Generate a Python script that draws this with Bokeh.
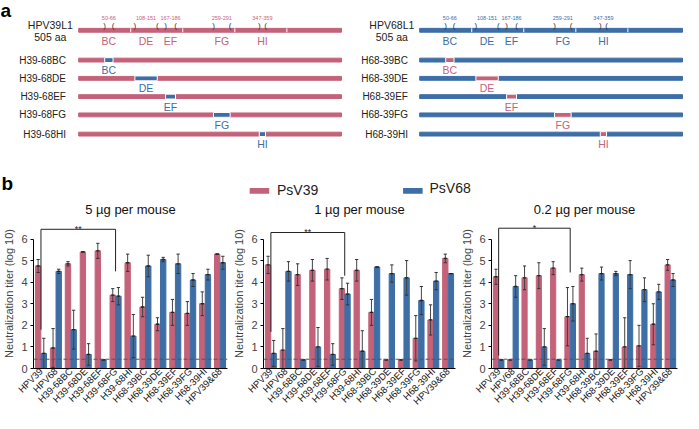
from bokeh.plotting import figure
from bokeh.models import Range1d, Span, ColumnDataSource, SingleIntervalTicker, FixedTicker
from bokeh.layouts import column, row
from bokeh.transform import dodge
from bokeh.core.properties import value
from bokeh.embed import file_html
from bokeh.resources import INLINE
import math

FONT = "Liberation Sans"
PINK = "#C4627A"
BLUE = "#3D6EA6"
DARK = "#222222"

# ---------------- data: panel a (L1 constructs) ----------------
L1_LENGTH = 505
regions = ["BC", "DE", "EF", "FG", "HI"]
region_start = [50, 108, 167, 259, 347]
region_end = [66, 151, 186, 291, 359]
region_range_labels = ["50-66", "108-151", "167-186", "259-291", "347-359"]
aa_ticks = [100, 200, 300, 400]
left_parent = ["HPV39L1", "505 aa"]
right_parent = ["HPV68L1", "505 aa"]
left_chimeras = ["H39-68BC", "H39-68DE", "H39-68EF", "H39-68FG", "H39-68HI"]
right_chimeras = ["H68-39BC", "H68-39DE", "H68-39EF", "H68-39FG", "H68-39HI"]

# ---------------- data: panel b (neutralization titers, log10) ----------------
cats = ["HPV39", "HPV68", "H39-68BC", "H39-68DE", "H39-68EF", "H39-68FG", "H39-68HI",
        "H68-39BC", "H68-39DE", "H68-39EF", "H68-39FG", "H68-39HI", "HPV39&68"]
dose_titles = ["5 \u00b5g per mouse", "1 \u00b5g per mouse", "0.2 \u00b5g per mouse"]
series_names = ["PsV39", "PsV68"]

psv39_5ug = [4.75, 0.95, 4.85, 5.4, 5.45, 3.4, 4.9, 2.85, 2.05, 2.6, 2.55, 3.0, 5.3]
psv39_5ug_sd = [0.3, 0.9, 0.1, 0.0, 0.35, 0.3, 0.4, 0.45, 0.3, 0.6, 0.55, 0.55, 0.0]
psv68_5ug = [0.7, 4.5, 1.8, 0.65, 0.4, 3.35, 1.5, 4.75, 5.05, 4.85, 4.1, 4.35, 4.9]
psv68_5ug_sd = [0.7, 0.1, 0.9, 0.5, 0.0, 0.4, 1.0, 0.5, 0.1, 0.45, 0.3, 0.25, 0.3]

psv39_1ug = [4.8, 0.85, 4.35, 4.55, 4.6, 3.7, 4.55, 2.6, 0.4, 0.4, 1.4, 2.25, 5.1]
psv39_1ug_sd = [0.4, 1.0, 0.5, 0.5, 0.5, 0.5, 0.5, 0.6, 0.0, 0.0, 1.05, 0.7, 0.2]
psv68_1ug = [0.7, 4.5, 0.4, 1.0, 0.65, 3.45, 0.8, 4.7, 4.4, 4.2, 3.15, 4.05, 4.4]
psv68_1ug_sd = [0.6, 0.45, 0.0, 0.9, 0.5, 0.5, 0.95, 0.0, 0.4, 0.8, 0.65, 0.4, 0.0]

psv39_02ug = [4.25, 0.4, 4.2, 4.3, 4.65, 2.4, 4.35, 0.8, 0.4, 1.0, 1.05, 2.05, 4.8]
psv39_02ug_sd = [0.35, 0.0, 0.55, 0.6, 0.3, 1.35, 0.3, 0.8, 0.0, 1.35, 0.95, 0.95, 0.25]
psv68_02ug = [0.4, 3.8, 0.4, 1.0, 0.4, 3.0, 0.7, 4.4, 4.4, 4.35, 3.65, 3.55, 4.1]
psv68_02ug_sd = [0.0, 0.5, 0.0, 0.85, 0.0, 0.8, 0.7, 0.3, 0.1, 0.65, 0.55, 0.35, 0.3]

detection_limit = 0.43
# significance bracket: (left leg bottom, top, right leg bottom, label)
sig_brackets = [(1.8, 6.45, 4.5, "**"), (1.7, 6.3, 4.3, "**"), (0.6, 6.5, 4.45, "*")]
sig_pair = ["HPV39", "H39-68FG"]

# ---------------- layout (reference pixel frame) ----------------
REF_W = 699
A_REF_H = 206
top_bar_y = 31
row_y = [62, 81, 100, 119, 139]
bar_x0_left, bar_x0_right, bar_len_px = 80, 429, 269
px_per_aa = bar_len_px / L1_LENGTH


def txt(p, x, y, t, size, color=DARK, align="center", baseline="middle", style="normal", rng=None):
    kw = {"x_range_name": rng} if rng else {}
    p.text(x=x, y=y, text=t, text_font=value(FONT), text_font_size=size,
           text_color=color, text_align=align, text_baseline=baseline,
           text_font_style=style, **kw)


pa = figure(width=683, height=198, x_range=Range1d(0, REF_W), y_range=Range1d(A_REF_H, 0),
            x_axis_location=None, y_axis_location=None, toolbar_location=None,
            output_backend="svg", min_border=0,
            extra_x_ranges={
                "left": Range1d(-bar_x0_left / px_per_aa, (REF_W - bar_x0_left) / px_per_aa),
                "right": Range1d(-bar_x0_right / px_per_aa, (REF_W - bar_x0_right) / px_per_aa)})
pa.grid.visible = False
pa.outline_line_color = None

blocks = [
    ("left", PINK, BLUE, left_parent, left_chimeras, 51, 67),
    ("right", BLUE, PINK, right_parent, right_chimeras, 400.5, 417),
]
mids = [(s + e) / 2 for s, e in zip(region_start, region_end)]
for rng, main, ins, parent, chims, head_x, lab_x in blocks:
    # parent L1
    pa.hbar(y=[top_bar_y], left=[0], right=[L1_LENGTH], height=4, color=main, x_range_name=rng)
    pa.segment(x0=aa_ticks, x1=aa_ticks, y0=[top_bar_y - 2] * len(aa_ticks),
               y1=[top_bar_y + 2] * len(aa_ticks), line_color="white", line_width=1,
               x_range_name=rng)
    txt(pa, region_start, [25.5] * 5, [")"] * 5, "8px", color="#333333", rng=rng)
    txt(pa, region_end, [25.5] * 5, ["("] * 5, "8px", color="#333333", rng=rng)
    txt(pa, mids, [18.5] * 5, region_range_labels, "5.5px", color=main, rng=rng)
    txt(pa, mids, [42] * 5, regions, "10.5px", color=main, rng=rng)
    txt(pa, [head_x, head_x], [25, 38], parent, "10.5px")
    # chimeras
    for i, name in enumerate(chims):
        pa.hbar(y=[row_y[i]], left=[0], right=[L1_LENGTH], height=4, color=main, x_range_name=rng)
        pa.hbar(y=[row_y[i]], left=[region_start[i]], right=[region_end[i]], height=5,
                fill_color=ins, line_color="white", line_width=1, x_range_name=rng)
        txt(pa, [lab_x], [row_y[i]], [name], "10px", align="right")
        txt(pa, [mids[i]], [row_y[i] + 10.5], [regions[i]], "10.5px", color=ins, rng=rng)

# panel labels and legend
txt(pa, [0], [10], ["a"], "19px", color="black", align="left", style="bold")
txt(pa, [1], [190], ["b"], "19px", color="black", align="left", style="bold")
pa.quad(left=[255, 412], right=[275, 432], top=[195, 195], bottom=[201, 201],
        fill_color=[PINK, BLUE], line_color=None)
txt(pa, [283, 439], [197.5, 195.5], series_names, "14px", align="left")

# ---------------- panel b bar charts ----------------
dose_data = [
    (psv39_5ug, psv39_5ug_sd, psv68_5ug, psv68_5ug_sd),
    (psv39_1ug, psv39_1ug_sd, psv68_1ug, psv68_1ug_sd),
    (psv39_02ug, psv39_02ug_sd, psv68_02ug, psv68_02ug_sd),
]
fig_w = [230, 228, 225]
fig_lb = [31, 31, 30]
fig_rb = [3, 3, 6]
OFF = 0.19
BW = 0.36
CAP = 0.11
xi = list(range(len(cats)))

figs = []
for k, (v39, s39, v68, s68) in enumerate(dose_data):
    p = figure(width=fig_w[k], height=215, x_range=Range1d(-0.5, len(cats) - 0.5),
               y_range=Range1d(0, 6.95), toolbar_location=None, output_backend="svg",
               min_border_left=fig_lb[k], min_border_right=fig_rb[k],
               min_border_top=0, min_border_bottom=40)
    p.grid.visible = False
    p.outline_line_color = None
    p.title.text = dose_titles[k]
    p.title.align = "center"
    p.title.text_font = FONT
    p.title.text_font_size = "13px"
    p.title.text_font_style = "normal"
    p.title.text_color = "#111111"
    p.title.standoff = 3
    src = ColumnDataSource(dict(
        x=xi, v39=v39, v68=v68,
        lo39=[max(0, v - s) for v, s in zip(v39, s39)], hi39=[v + s for v, s in zip(v39, s39)],
        lo68=[max(0, v - s) for v, s in zip(v68, s68)], hi68=[v + s for v, s in zip(v68, s68)],
    ))
    for off, col, vk, lo, hi in [(-OFF, PINK, "v39", "lo39", "hi39"), (OFF, BLUE, "v68", "lo68", "hi68")]:
        p.vbar(x=dodge("x", off), top=vk, width=BW, color=col, source=src)
        p.segment(x0=dodge("x", off), x1=dodge("x", off),
                  y0=lo, y1=hi, line_color="#444444", line_width=1, source=src)
        for end in (lo, hi):
            p.segment(x0=dodge("x", off - CAP), x1=dodge("x", off + CAP),
                      y0=end, y1=end, line_color="#333333", line_width=1, source=src)
        p.segment(x0=dodge("x", off - CAP), x1=dodge("x", off + CAP),
                  y0=vk, y1=vk, line_color="#222222", line_width=1.3, source=src)
    p.add_layout(Span(location=detection_limit, dimension="width", line_color="#555555",
                      line_dash="4 2", line_width=1))
    lb, top, rb, star = sig_brackets[k]
    i0, i1 = cats.index(sig_pair[0]), cats.index(sig_pair[1])
    p.line(x=[i0, i0, i1, i1], y=[lb, top, top, rb], line_color="#222222", line_width=1)
    p.text(x=[(i0 + i1) / 2], y=[top + 0.03], text=[star], text_font=value(FONT),
           text_font_size="9px", text_align="center", text_baseline="alphabetic",
           text_color="#222222")

    ya = p.yaxis[0]
    ya.ticker = SingleIntervalTicker(interval=1)
    ya.bounds = (0, 6)
    ya.axis_label = "Neutralization titer (log 10)"
    ya.axis_label_text_font = FONT
    ya.axis_label_text_font_size = "11px"
    ya.axis_label_text_font_style = "normal"
    ya.axis_label_standoff = 3
    ya.major_label_text_font = FONT
    ya.major_label_text_font_size = "11px"
    ya.major_label_standoff = 2
    ya.major_tick_in = 0
    ya.major_tick_out = 3
    ya.minor_tick_line_color = None
    ya.axis_line_color = "black"

    xa = p.xaxis[0]
    xa.ticker = FixedTicker(ticks=xi)
    xa.major_label_overrides = {i: c for i, c in zip(xi, cats)}
    xa.major_label_orientation = math.pi / 4
    xa.major_label_text_font = FONT
    xa.major_label_text_font_size = "9.5px"
    xa.major_label_text_color = "#111111"
    xa.major_label_standoff = 1
    xa.major_tick_in = 0
    xa.major_tick_out = 0
    xa.major_tick_line_color = None
    xa.minor_tick_line_color = None
    xa.axis_line_color = "black"
    figs.append(p)

layout = column(pa, row(*figs))
open("out.html", "w").write(file_html(layout, INLINE))
